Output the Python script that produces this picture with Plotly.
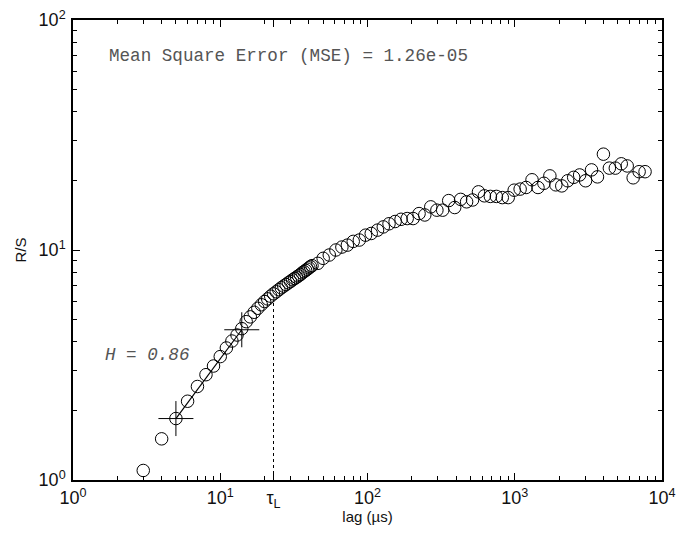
import plotly.graph_objects as go

# integer lags (dense region) and their R/S values
lag_int = list(range(3, 43))
rs_int = [1.10, 1.51, 1.85, 2.20, 2.55, 2.87, 3.13, 3.44, 3.75, 4.02,
          4.27, 4.55, 4.88, 5.12, 5.36, 5.58, 5.78, 5.97, 6.13, 6.30,
          6.45, 6.58, 6.72, 6.85, 6.97, 7.08, 7.20, 7.30, 7.42, 7.52,
          7.62, 7.72, 7.82, 7.95, 8.05, 8.15, 8.25, 8.36, 8.46, 8.55]

# log-spaced lags and their R/S values
lag_log = [46, 50, 55, 61, 67, 73, 80, 88, 97, 106, 117, 128, 140, 154, 169, 186,
           204, 224, 245, 269, 296, 324, 356, 391, 429, 471, 517, 567, 622, 683,
           750, 823, 903, 991, 1088, 1194, 1310, 1438, 1578, 1732, 1901, 2086,
           2289, 2513, 2758, 3026, 3322, 3645, 4001, 4391, 4819, 5289, 5804,
           6370, 6992, 7673]
rs_log = [8.75, 9.20, 9.51, 10.0, 10.3, 10.5, 10.9, 11.05, 11.6, 11.8, 12.2, 12.6,
          13.0, 13.3, 13.6, 13.7, 13.7, 14.4, 14.2, 15.4, 14.9, 14.9, 16.4, 15.3,
          16.6, 16.2, 16.5, 17.9, 17.2, 17.1, 17.1, 16.9, 16.9, 18.2, 18.4, 18.7,
          20.2, 18.7, 19.5, 21.0, 19.2, 19.0, 20.0, 20.7, 21.2, 20.0, 22.3, 20.8,
          26.1, 22.7, 22.7, 23.7, 23.2, 20.6, 21.9, 21.9]

lags = lag_int + lag_log
rs = rs_int + rs_log

# fit range endpoints (crosses) and fit line
fit_lag = [5, 14]
fit_rs = [1.85, 4.50]

tau_L = 23
tau_rs = 5.9

x_ticks = [1, 10, 100, 1000, 10000]
x_labels = ["10<sup>0</sup>", "10<sup>1</sup>", "10<sup>2</sup>", "10<sup>3</sup>", "10<sup>4</sup>"]
y_ticks = [1, 10, 100]
y_labels = ["10<sup>0</sup>", "10<sup>1</sup>", "10<sup>2</sup>"]

minor_x = [m * 10 ** d for d in range(0, 4) for m in range(2, 10)]
minor_y = [m * 10 ** d for d in range(0, 2) for m in range(2, 10)]

fig = go.Figure()

fig.add_trace(go.Scatter(
    x=[tau_L, tau_L], y=[1, tau_rs], mode="lines",
    line=dict(color="black", width=1, dash="3px,3px"), showlegend=False, hoverinfo="skip"))

fig.add_trace(go.Scatter(
    x=lags, y=rs, mode="markers",
    marker=dict(symbol="circle-open", size=12.5, color="black", line=dict(width=1, color="black")),
    showlegend=False))

fig.add_trace(go.Scatter(
    x=fit_lag, y=fit_rs, mode="lines+markers",
    line=dict(color="black", width=1.2),
    marker=dict(symbol="cross-thin-open", size=25, color="black", line=dict(width=1, color="black")),
    showlegend=False))

sans = "Liberation Sans, Arial, sans-serif"
tickfont = dict(family=sans, size=18, color="#111")
mono = "Courier New, Liberation Mono, monospace"

fig.update_layout(
    width=681, height=535,
    margin=dict(l=73, r=19, t=20, b=55),
    plot_bgcolor="white", paper_bgcolor="white",
    xaxis=dict(
        type="log", range=[0, 4], automargin=False,
        tickmode="array", tickvals=x_ticks + [tau_L],
        ticktext=x_labels + ["τ<sub>L</sub>"],
        ticks="inside", ticklen=7, tickwidth=1, tickcolor="black",
        showline=True, linecolor="black", linewidth=1.5, mirror="ticks",
        showgrid=False, zeroline=False, tickfont=tickfont, ticklabelstandoff=1,
        minor=dict(tickmode="array", tickvals=minor_x, ticks="inside", ticklen=4,
                   tickwidth=1, tickcolor="black", showgrid=False),
        title=dict(text="lag (µs)", font=dict(family=sans, size=15, color="#111"),
                   standoff=0),
    ),
    yaxis=dict(
        type="log", range=[0, 2], automargin=False,
        tickmode="array", tickvals=y_ticks, ticktext=y_labels,
        ticks="inside", ticklen=7, tickwidth=1, tickcolor="black",
        showline=True, linecolor="black", linewidth=1.5, mirror="ticks",
        showgrid=False, zeroline=False, tickfont=tickfont, ticklabelstandoff=2,
        minor=dict(tickmode="array", tickvals=minor_y, ticks="inside", ticklen=4,
                   tickwidth=1, tickcolor="black", showgrid=False),
        title=dict(text="R/S", font=dict(family=sans, size=15, color="#111"),
                   standoff=8),
    ),
    annotations=[
        dict(text="Mean Square Error (MSE) = 1.26e-05", xref="paper", yref="paper",
             x=0.058, y=0.922, xanchor="left", yanchor="middle", showarrow=False,
             font=dict(family=mono, size=17.6, color="#555")),
        dict(text="<i>H = 0.86</i>", xref="paper", yref="paper",
             x=0.051, y=0.272, xanchor="left", yanchor="middle", showarrow=False,
             font=dict(family=mono, size=17.6, color="#555")),
    ],
)

fig.write_html("out.html")
